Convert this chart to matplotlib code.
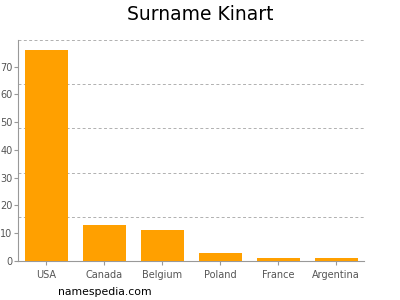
import matplotlib
matplotlib.use("Agg")
import matplotlib.pyplot as plt

countries = ["USA", "Canada", "Belgium", "Poland", "France", "Argentina"]
counts = [76, 13, 11, 3, 1, 1]
y_ticks = [0, 10, 20, 30, 40, 50, 60, 70]

fig = plt.figure(figsize=(4, 3), dpi=100)
ax = fig.add_axes([0.045, 0.13, 0.865, 0.7367])

ymax = max(counts) * 1.047
x = range(len(countries))
ax.bar(x, counts, width=0.74, color="#ffa000", zorder=3)

ax.set_xlim(-0.49, len(countries) - 0.52)
ax.set_ylim(0, ymax)
ax.set_xticks(list(x))
ax.set_xticklabels(countries)
ax.set_yticks(y_ticks)

# dashed grid splits the axis into five equal parts
for k in range(1, 6):
    ax.axhline(ymax * k / 5, color="#b0b0b0", linestyle=(0, (3, 2.5)), linewidth=0.7, zorder=1)

for side in ["top", "right"]:
    ax.spines[side].set_visible(False)
ax.spines["left"].set_color("#999999")
ax.spines["bottom"].set_color("#999999")
ax.tick_params(axis="both", colors="#999999", labelcolor="#555555", labelsize=7, length=3, width=0.8)
ax.tick_params(axis="y", pad=1)

fig.text(0.5, 0.95, "Surname Kinart", ha="center", va="center", fontsize=13.5)
fig.text(0.145, 0.027, "namespedia.com", ha="left", va="center", fontsize=7.8)

fig.savefig("out.png", dpi=100)
